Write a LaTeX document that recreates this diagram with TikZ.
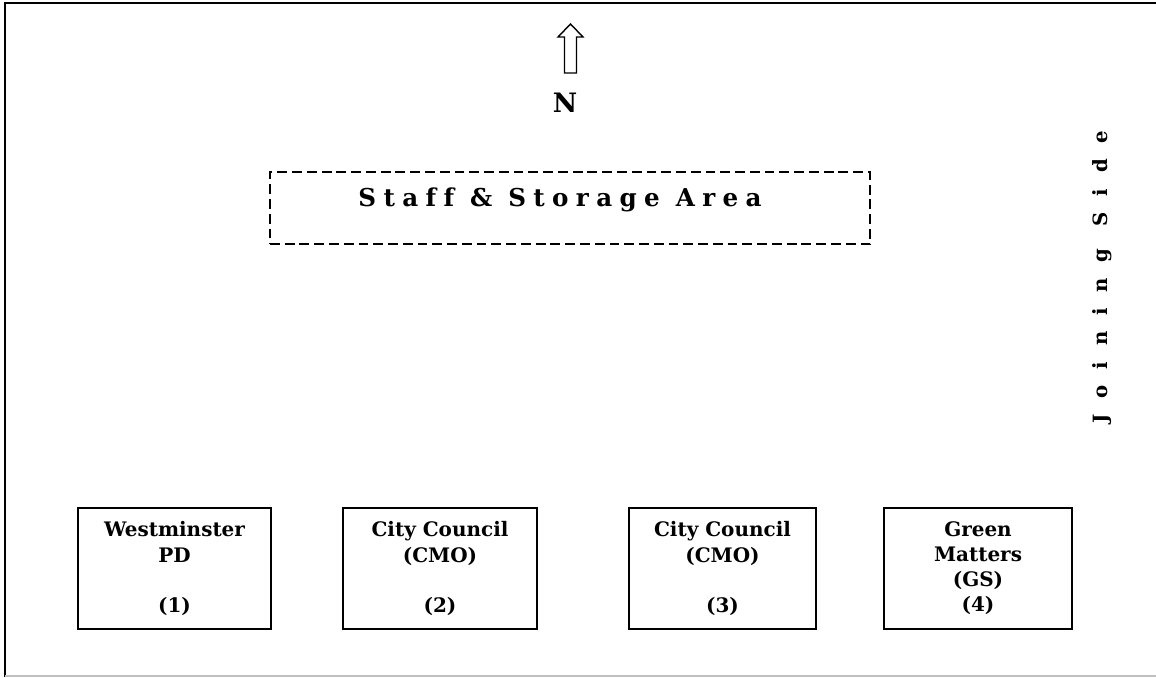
\documentclass[tikz,border=0pt]{standalone}
\usepackage{fontspec}
\setmainfont{DejaVu Serif}

\begin{document}
\begin{tikzpicture}[x=0.025cm, y=-0.025cm,
    unit/.style = {draw, line width=1.8pt, minimum height=3.025cm, inner sep=0pt, align=center,
                   font=\fontsize{14.2}{17.8}\selectfont\bfseries},
    area/.style = {draw, line width=1.5pt, dash pattern=on 7pt off 3.5pt, inner sep=0pt,
                   minimum width=15cm, minimum height=1.8cm},
    spaced/.style = {font=\fontsize{17.5}{20}\selectfont\bfseries\addfontfeatures{LetterSpace=30, Ligatures=NoCommon}}]
            \useasboundingbox (0,0) rectangle (1156,677);
            \draw[line width=2pt] (5,677) -- (5,3) -- (1156,3);
            \draw[gray!50, line width=1pt] (5,676) -- (1156,676);

            \draw[line width=1pt] (570.5,24) -- (583,37) -- (576.5,37) -- (576.5,73)
                -- (564.5,73) -- (564.5,37) -- (558,37) -- cycle;
            \node[font=\fontsize{19}{23}\selectfont\bfseries] (N) at (565,103) {N};

            \node[area] (staff) at (570,208) {};
            \node[spaced] (stafflbl) at (560,200) {Staff \& Storage Area};

            \node[font=\fontsize{14}{17}\selectfont\bfseries\addfontfeature{LetterSpace=80}, rotate=90]
                (joining) at (1102,277) {Joining Side};

            \node[unit, minimum width=4.825cm] (wpd) at (174.5,568.5) {Westminster\\PD\\ \\(1)};
            \node[unit, minimum width=4.85cm] (cc2) at (440,568.5) {City Council\\(CMO)\\ \\(2)};
            \node[unit, minimum width=4.675cm] (cc3) at (722.5,568.5) {City Council\\(CMO)\\ \\(3)};
            \node[unit, minimum width=4.7cm] (gm) at (978,568.5) {Green\\Matters\\(GS)\\(4)};
        \end{tikzpicture}
\end{document}
